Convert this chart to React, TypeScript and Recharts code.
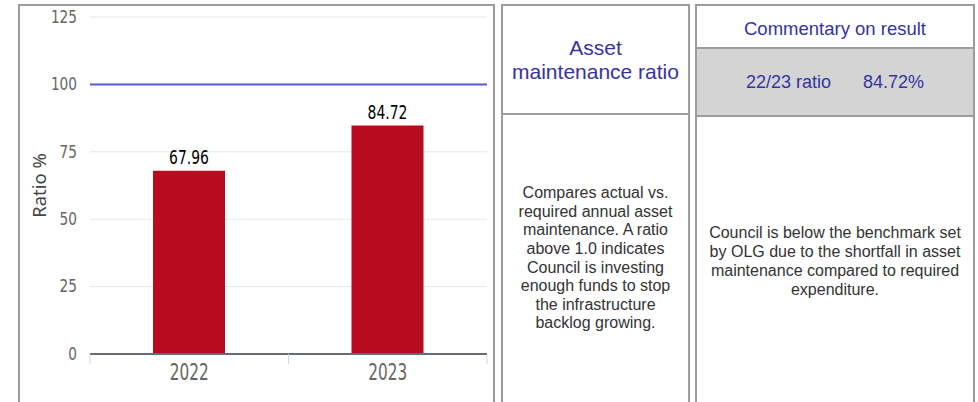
import React from 'react';
import { BarChart, Bar, XAxis, YAxis, CartesianGrid, ReferenceLine, LabelList } from 'recharts';

const categories = ['2022', '2023'];
const ratioValues = [67.96, 84.72];
const benchmark = 100;
const yTicks = [0, 25, 50, 75, 100, 125];

const titleLines = ['Asset', 'maintenance ratio'];
const descriptionLines = [
  'Compares actual vs.',
  'required annual asset',
  'maintenance. A ratio',
  'above 1.0 indicates',
  'Council is investing',
  'enough funds to stop',
  'the infrastructure',
  'backlog growing.',
];
const commentaryTitle = 'Commentary on result';
const resultLabel = '22/23 ratio';
const resultValue = '84.72%';
const commentaryLines = [
  'Council is below the benchmark set',
  'by OLG due to the shortfall in asset',
  'maintenance compared to required',
  'expenditure.',
];

const data = categories.map((year, i) => ({ year, ratio: ratioValues[i] }));

const CHART_W = 495;
const CHART_H = 402;
const MARGIN = { top: 17, right: 8, bottom: 18, left: 0 };
const Y_AXIS_W = 90;
const PLOT_W = CHART_W - MARGIN.left - MARGIN.right - Y_AXIS_W;
const BAND = PLOT_W / categories.length;

const COND_FONT = '"DejaVu Sans Condensed", "DejaVu Sans", sans-serif';
const CHART_FONT = '"Noto Sans", "Open Sans", sans-serif';
const HTML_FONT = '"Liberation Sans", Arial, sans-serif';
const BORDER = '2px solid #9d9d9d';
const BLUE = '#3434a0';

const ScaledText = ({ x, y, sy, children, ...rest }: any) => (
  <text
    x={x}
    y={y}
    fontFamily={COND_FONT}
    transform={`translate(0, ${y}) scale(1, ${sy}) translate(0, ${-y})`}
    {...rest}
  >
    {children}
  </text>
);

const XTick = (props: any) => {
  const { x, y, payload, index } = props;
  const half = BAND / 2;
  const last = index === categories.length - 1;
  return (
    <g>
      <line x1={x - half} x2={x - half} y1={y} y2={y + 10} stroke="#ccd6eb" strokeWidth={1} />
      {last && <line x1={x + half} x2={x + half} y1={y} y2={y + 10} stroke="#ccd6eb" strokeWidth={1} />}
      <ScaledText x={x} y={y + 19} sy={1.3} textAnchor="middle" dominantBaseline="central" fontSize={17} fill="#666666">
        {payload.value}
      </ScaledText>
    </g>
  );
};

const YTick = (props: any) => {
  const { x, y, payload } = props;
  return (
    <ScaledText x={x} y={y} sy={1.15} textAnchor="end" dominantBaseline="central" fontSize={15.2} fill="#666666">
      {payload.value}
    </ScaledText>
  );
};

const BarValue = (props: any) => {
  const { x, y, width, value } = props;
  return (
    <ScaledText x={x + width / 2} y={y - 7} sy={1.24} textAnchor="middle" fontSize={15.5} fill="#000000">
      {Number(value).toFixed(2)}
    </ScaledText>
  );
};

const YLabel = (props: any) => {
  const vb = props.viewBox || { x: 0, y: 0, width: 0, height: 0 };
  const cx = vb.x + 38;
  const cy = vb.y + vb.height / 2;
  return (
    <text
      x={cx}
      y={cy}
      transform={`rotate(-90, ${cx}, ${cy})`}
      textAnchor="middle"
      dominantBaseline="central"
      fontSize={18.5}
      fill="#444444"
      fontFamily={CHART_FONT}
    >
      Ratio %
    </text>
  );
};

export default function App() {
  return (
    <div
      style={{
        position: 'absolute',
        left: 0,
        top: 0,
        width: 978,
        height: 402,
        overflow: 'hidden',
        background: '#ffffff',
      }}
    >
      {/* left panel frame */}
      <div
        style={{
          position: 'absolute',
          left: 18,
          top: 4,
          width: 477,
          height: 420,
          border: BORDER,
          boxSizing: 'border-box',
        }}
      />
      <div style={{ position: 'absolute', left: 0, top: 0 }}>
        <BarChart width={CHART_W} height={CHART_H} data={data} margin={MARGIN}>
          <CartesianGrid vertical={false} stroke="#e6e6e6" strokeWidth={1} />
          <YAxis
            width={Y_AXIS_W}
            domain={[0, 125]}
            ticks={yTicks}
            axisLine={false}
            tickLine={false}
            tickSize={0}
            tickMargin={13}
            tick={<YTick />}
            label={<YLabel />}
          />
          <XAxis
            dataKey="year"
            height={30}
            axisLine={{ stroke: '#676b78', strokeWidth: 2 }}
            tickLine={false}
            tickSize={0}
            tickMargin={0}
            tick={<XTick />}
            interval={0}
          />
          <ReferenceLine y={benchmark} stroke="#5a5ad2" strokeWidth={2} ifOverflow="extendDomain" />
          <Bar dataKey="ratio" fill="#b70b1e" barSize={72} isAnimationActive={false}>
            <LabelList dataKey="ratio" content={<BarValue />} />
          </Bar>
        </BarChart>
      </div>

      {/* middle panel */}
      <div
        style={{
          position: 'absolute',
          left: 501,
          top: 4,
          width: 189,
          height: 420,
          border: BORDER,
          boxSizing: 'border-box',
          fontFamily: HTML_FONT,
        }}
      >
        <div
          style={{
            height: 109,
            borderBottom: BORDER,
            boxSizing: 'border-box',
            display: 'flex',
            flexDirection: 'column',
            alignItems: 'center',
            justifyContent: 'center',
            color: BLUE,
            fontSize: 21,
            lineHeight: '24px',
            textAlign: 'center',
          }}
        >
          {titleLines.map((l, i) => (
            <div key={i}>{l}</div>
          ))}
        </div>
        <div
          style={{
            height: 287,
            display: 'flex',
            flexDirection: 'column',
            alignItems: 'center',
            justifyContent: 'center',
            color: '#333333',
            fontSize: 16,
            lineHeight: '18.6px',
            textAlign: 'center',
          }}
        >
          {descriptionLines.map((l, i) => (
            <div key={i}>{l}</div>
          ))}
        </div>
      </div>

      {/* right panel */}
      <div
        style={{
          position: 'absolute',
          left: 695,
          top: 4,
          width: 280,
          height: 420,
          border: BORDER,
          boxSizing: 'border-box',
          fontFamily: HTML_FONT,
        }}
      >
        <div
          style={{
            height: 43,
            paddingTop: 4,
            borderBottom: BORDER,
            boxSizing: 'border-box',
            display: 'flex',
            alignItems: 'center',
            justifyContent: 'center',
            color: BLUE,
            fontSize: 18.5,
          }}
        >
          {commentaryTitle}
        </div>
        <div
          style={{
            height: 68,
            background: '#d4d4d4',
            borderBottom: BORDER,
            boxSizing: 'border-box',
            display: 'flex',
            alignItems: 'center',
            justifyContent: 'center',
            color: BLUE,
            fontSize: 18,
          }}
        >
          <span>{resultLabel}</span>
          <span style={{ marginLeft: 32 }}>{resultValue}</span>
        </div>
        <div
          style={{
            height: 287,
            display: 'flex',
            flexDirection: 'column',
            alignItems: 'center',
            justifyContent: 'center',
            color: '#333333',
            fontSize: 16,
            lineHeight: '19px',
            textAlign: 'center',
          }}
        >
          {commentaryLines.map((l, i) => (
            <div key={i}>{l}</div>
          ))}
        </div>
      </div>
    </div>
  );
}
